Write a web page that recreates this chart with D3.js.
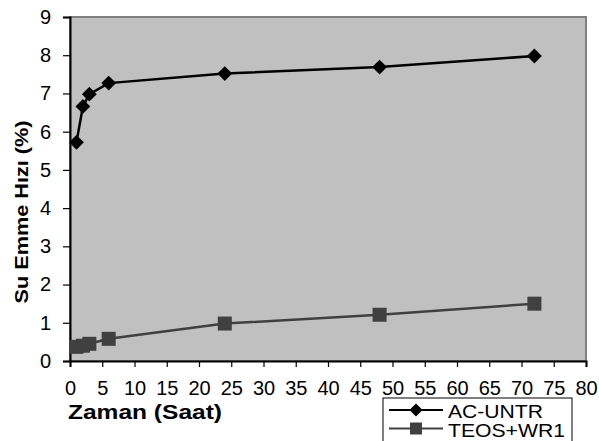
<!DOCTYPE html>
<html>
<head>
<meta charset="utf-8">
<script src="https://cdn.jsdelivr.net/npm/d3@7"></script>
<style>
  body { margin: 0; background: #fff; }
  text { font-family: Arial, "Liberation Sans", sans-serif; }
</style>
</head>
<body>
<div id="chart"></div>
<script>
const hours = [1, 2, 3, 6, 24, 48, 72];
const acUntr = [5.72, 6.66, 6.98, 7.27, 7.52, 7.69, 7.98];
const teosWr1 = [0.37, 0.40, 0.45, 0.58, 0.98, 1.21, 1.50];
const xTicks = d3.range(0, 81, 5);
const yTicks = d3.range(0, 10, 1);

const width = 599, height = 441;
const m = { left: 70, right: 13, top: 17, bottom: 80 };

const svg = d3.select("#chart").append("svg")
  .attr("width", width)
  .attr("height", height);

const x = d3.scaleLinear().domain([0, 80]).range([m.left, width - m.right]);
const y = d3.scaleLinear().domain([0, 9]).range([height - m.bottom, m.top]);

// plot area
svg.append("rect")
  .attr("x", x(0)).attr("y", y(9))
  .attr("width", x(80) - x(0)).attr("height", y(0) - y(9))
  .attr("fill", "#c0c0c0")
  .attr("stroke", "#808080")
  .attr("stroke-width", 2);

const xAxis = svg.append("g")
  .attr("transform", `translate(0,${y(0)})`)
  .call(d3.axisBottom(x).tickValues(xTicks).tickSizeOuter(0).tickSize(6).tickPadding(14));
const yAxis = svg.append("g")
  .attr("transform", `translate(${x(0)},0)`)
  .call(d3.axisLeft(y).tickValues(yTicks).tickSizeOuter(0).tickSize(7).tickPadding(12));

[xAxis, yAxis].forEach(g => {
  g.attr("font-size", 20).attr("font-family", "Arial, 'Liberation Sans', sans-serif");
  g.select(".domain").attr("stroke", "#000").attr("stroke-width", 2);
  g.selectAll(".tick line").attr("stroke", "#000").attr("stroke-width", 1.2);
  g.selectAll("text").attr("fill", "#000");
});

const line = d3.line().x((d, i) => x(hours[i])).y(d => y(d));

// series 2
svg.append("path").datum(teosWr1)
  .attr("d", line).attr("fill", "none")
  .attr("stroke", "#404040").attr("stroke-width", 2.5);
svg.selectAll(".sq").data(teosWr1).join("rect")
  .attr("x", (d, i) => x(hours[i]) - 7)
  .attr("y", d => y(d) - 7)
  .attr("width", 14).attr("height", 14)
  .attr("fill", "#404040");

// series 1
svg.append("path").datum(acUntr)
  .attr("d", line).attr("fill", "none")
  .attr("stroke", "#000").attr("stroke-width", 2.5);
const diamond = d3.symbol().type(d3.symbolDiamond2).size(140);
svg.selectAll(".dm").data(acUntr).join("path")
  .attr("d", diamond)
  .attr("transform", (d, i) => `translate(${x(hours[i])},${y(d)})`)
  .attr("fill", "#000");

// axis titles (text in the original is a bit stretched)
svg.append("text")
  .attr("x", 68).attr("y", 419)
  .attr("font-size", 21).attr("font-weight", "bold")
  .attr("textLength", 154).attr("lengthAdjust", "spacingAndGlyphs")
  .text("Zaman (Saat)");
svg.append("text")
  .attr("transform", "translate(28,212) rotate(-90)")
  .attr("text-anchor", "middle")
  .attr("font-size", 19).attr("font-weight", "bold")
  .attr("textLength", 183).attr("lengthAdjust", "spacingAndGlyphs")
  .text("Su Emme Hızı (%)");

// legend
const lg = svg.append("g");
lg.append("rect")
  .attr("x", 383).attr("y", 398)
  .attr("width", 189).attr("height", 50)
  .attr("fill", "#fff").attr("stroke", "#000").attr("stroke-width", 1);
const items = [
  { name: "AC-UNTR", color: "#000", shape: "diamond", len: 95 },
  { name: "TEOS+WR1", color: "#404040", shape: "square", len: 117 }
];
items.forEach((it, i) => {
  const cy = 410 + i * 18.5;
  lg.append("line")
    .attr("x1", 389).attr("x2", 443).attr("y1", cy).attr("y2", cy)
    .attr("stroke", it.color).attr("stroke-width", 2);
  if (it.shape === "diamond") {
    lg.append("path").attr("d", d3.symbol().type(d3.symbolDiamond2).size(110))
      .attr("transform", `translate(416,${cy})`).attr("fill", it.color);
  } else {
    lg.append("rect").attr("x", 410).attr("y", cy - 6)
      .attr("width", 12).attr("height", 12).attr("fill", it.color);
  }
  lg.append("text")
    .attr("x", 448).attr("y", cy + 8)
    .attr("font-size", 18)
    .attr("textLength", it.len).attr("lengthAdjust", "spacingAndGlyphs")
    .text(it.name);
});
</script>
</body>
</html>
